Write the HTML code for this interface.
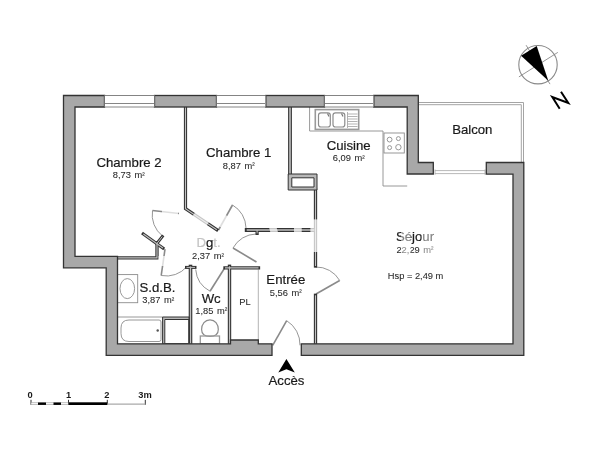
<!DOCTYPE html>
<html><head><meta charset="utf-8">
<style>
html,body{margin:0;padding:0;background:#fff;width:600px;height:450px;overflow:hidden}
svg{position:absolute;left:0;top:0;will-change:transform}
text{font-family:"Liberation Sans",sans-serif;fill:#1a1a1a}
.t{font-size:13.2px;stroke:#1a1a1a;stroke-width:0.2px}
.a{font-size:9.3px;fill:#2a2a2a;stroke:#2a2a2a;stroke-width:0.08px}
</style></head><body>
<svg width="600" height="450" viewBox="0 0 600 450">
<!-- balcony railing -->
<g fill="none" stroke="#9a9a9a" stroke-width="0.9">
  <path d="M418.3,102.5 H523.5 V162.5"/>
  <path d="M418.3,104.7 H521.3 V162.5"/>
  <path d="M435,170.6 H485 M435,173.6 H485 M435,169.5 V174.7 M485,169.5 V174.7" stroke="#b0b0b0"/>
</g>
<!-- kitchen counter -->
<g fill="none" stroke="#8c8c8c" stroke-width="0.9">
  <path d="M309.6,107 V131 H383 V186 H407.2"/>
  <rect x="315.3" y="109.6" width="43.4" height="19.8" stroke="#999" stroke-width="1.6"/>
  <rect x="318.5" y="112.8" width="11.8" height="14.2" rx="2.5" stroke-width="1.2"/>
  <rect x="333" y="112.8" width="11.8" height="14.2" rx="2.5" stroke-width="1.2"/>
  <path d="M347.5,114 H357.5 M347.5,116.5 H357.5 M347.5,119 H357.5 M347.5,121.5 H357.5 M347.5,124 H357.5 M347.5,126.5 H357.5 M347.5,112 V128" stroke="#aaa"/>
  <path d="M327.5,113.5 L329,116.5 M341.5,113.5 L343,116.5" stroke="#777" stroke-width="1.2"/>
  <rect x="384" y="133" width="20.3" height="20"/>
  <circle cx="389.6" cy="139.6" r="2.4"/>
  <circle cx="398.4" cy="138.6" r="2"/>
  <circle cx="389.6" cy="147.6" r="2"/>
  <circle cx="398.4" cy="147.2" r="2.7"/>
</g>
<!-- bathroom fixtures -->
<g fill="none" stroke="#8c8c8c" stroke-width="0.9">
  <rect x="117.5" y="274.6" width="20.2" height="28.1"/>
  <ellipse cx="127.3" cy="288.6" rx="7.3" ry="10"/>
  <path d="M117.5,317 H162.6"/>
  <path d="M129,320 H159 Q161,320 161,322 V339.5 Q161,341.5 159,341.5 H129 Q121,341.5 121,333.5 V328 Q121,320 129,320 Z"/>
  <path d="M210,319.8 C205,319.8 201.6,324 201.6,329.5 C201.6,334 205,336.4 210,336.4 C215,336.4 218.3,334 218.3,329.5 C218.3,324 215,319.8 210,319.8 Z" stroke-width="1.2"/>
  <rect x="200.3" y="336" width="19.2" height="7.8" stroke-width="1.3" stroke="#999"/>
</g>
<circle cx="157.7" cy="330.5" r="1.2" fill="#555"/>
<!-- PL light line -->
<path d="M258.3,269.5 V340" stroke="#aaa" stroke-width="0.9" fill="none"/>
<!-- doors -->
<g fill="none" stroke="#8a8a8a" stroke-width="0.9">
  <!-- chambre 2 door -->
  <path d="M179,213.5 L152.5,210.5" stroke-width="1.6"/>
  <path d="M152.5,210.5 A27,27 0 0 0 162.5,236"/>
  <!-- chambre 1 door -->
  <path d="M218.5,230 L232.5,205" stroke-width="1.6"/>
  <path d="M232.5,205 A27,27 0 0 1 246,228"/>
  <!-- sdb door -->
  <path d="M165,249.2 L161.2,275.5" stroke-width="1.6"/>
  <path d="M161.2,275.5 A27,27 0 0 0 187,266.5"/>
  <!-- wc door -->
  <path d="M224.2,268.7 L210,291.2" stroke-width="1.6"/>
  <path d="M210,291.2 A27,27 0 0 1 195.7,269.5"/>
  <!-- entree door from dgt -->
  <path d="M256.5,262 L233,248" stroke-width="1.6"/>
  <path d="M233,248 A27,27 0 0 1 256,234"/>
  <!-- sejour door -->
  <path d="M316,294 L339.7,280.5" stroke-width="1.6"/>
  <path d="M339.7,280.5 A27,27 0 0 0 315.5,267"/>
  <!-- entry door -->
  <path d="M272.7,345.3 L286.7,320.7" stroke-width="1.6"/>
  <path d="M286.7,320.7 A28,28 0 0 1 300,345.3"/>
</g>
<!-- partitions -->
<g fill="none" stroke-linecap="square" stroke-linejoin="miter">
  <path d="M185.5,107 V208.7 L216.8,229.8" stroke="#333" stroke-width="3.2"/>
  <path d="M290,107 V174" stroke="#333" stroke-width="3.8"/>
  <path d="M315.5,190 V266" stroke="#333" stroke-width="3.3"/>
  <path d="M315.5,295.3 V343.8" stroke="#333" stroke-width="3.3"/>
  <path d="M246.7,230 H314.3" stroke="#333" stroke-width="3.8"/>
  <path d="M117.5,257.8 H157 V243" stroke="#333" stroke-width="3.3"/>
  <path d="M143.3,234 L162.9,248" stroke="#333" stroke-width="3.2"/>
  <path d="M157.3,243 L162.3,236.5" stroke="#333" stroke-width="3.0"/>
  <path d="M190.5,266.5 V343.8" stroke="#333" stroke-width="3.6"/>
  <path d="M186.5,267.4 H195" stroke="#333" stroke-width="3.0"/>
  <path d="M229.5,266.3 V343.8" stroke="#333" stroke-width="3.4"/>
  <path d="M225,267.8 H258.5" stroke="#333" stroke-width="3.3"/>
  <path d="M257.1,230 V233.4" stroke="#333" stroke-width="3.2"/>
  <path d="M185.5,107 V208.7 L216.8,229.8" stroke="#c0c0c0" stroke-width="1.1" stroke-linecap="butt"/>
  <path d="M290,107 V174" stroke="#c0c0c0" stroke-width="1.6" stroke-linecap="butt"/>
  <path d="M315.5,190 V266" stroke="#c0c0c0" stroke-width="1.1" stroke-linecap="butt"/>
  <path d="M315.5,295.3 V343.8" stroke="#c0c0c0" stroke-width="1.1" stroke-linecap="butt"/>
  <path d="M246.7,230 H314.3" stroke="#c0c0c0" stroke-width="1.4" stroke-linecap="butt"/>
  <path d="M117.5,257.8 H157 V243" stroke="#c0c0c0" stroke-width="1.2" stroke-linecap="butt"/>
  <path d="M143.3,234 L162.9,248" stroke="#c0c0c0" stroke-width="1.1" stroke-linecap="butt"/>
  <path d="M157.3,243 L162.3,236.5" stroke="#c0c0c0" stroke-width="1.0" stroke-linecap="butt"/>
  <path d="M190.5,266.5 V343.8" stroke="#c0c0c0" stroke-width="1.3" stroke-linecap="butt"/>
  <path d="M186.5,267.4 H195" stroke="#c0c0c0" stroke-width="1.0" stroke-linecap="butt"/>
  <path d="M229.5,266.3 V343.8" stroke="#c0c0c0" stroke-width="1.2" stroke-linecap="butt"/>
  <path d="M225,267.8 H258.5" stroke="#c0c0c0" stroke-width="1.2" stroke-linecap="butt"/>
  <path d="M257.1,230 V233.4" stroke="#c0c0c0" stroke-width="1.0" stroke-linecap="butt"/>
</g>
<g fill="#b8b8b8" stroke="#333" stroke-width="1">
  <path d="M288.2,174 H317 V190 H288.2 Z M291.8,177.8 V187 H314 V177.8 Z" fill-rule="evenodd"/>
  <path d="M162.6,317 H189 V343.8 H162.6 Z M164.8,319.5 V343.8 H189 V319.5 Z" fill-rule="evenodd"/>
</g>
<!-- walls -->
<g fill="#a8a8a8" stroke="#333" stroke-width="1.3" stroke-linejoin="miter">
  <path d="M63.5,95.5 H104.5 V107 H75 V256.3 H117.5 V343.8 H230.5 V340 H258.3 V343.8 H272 V355.3 H106.2 V267.8 H63.5 Z"/>
  <rect x="154.5" y="95.5" width="62" height="11.5"/>
  <rect x="265.8" y="95.5" width="58.7" height="11.5"/>
  <path d="M373.8,95.5 H418.3 V162.5 H433.3 V174 H407.2 V107 H373.8 Z"/>
  <path d="M486.3,162.5 H523.8 V355.3 H301.3 V343.8 H513 V174.2 H486.3 Z"/>
</g>
<!-- windows -->
<g fill="#fff" stroke="#666" stroke-width="0.8">
  <rect x="104.5" y="95.5" width="50" height="11.5"/>
  <line x1="105" y1="103.5" x2="154" y2="103.5"/>
  <rect x="216.5" y="95.5" width="49.3" height="11.5"/>
  <line x1="217" y1="103.5" x2="265" y2="103.5"/>
  <rect x="324.5" y="95.5" width="49.3" height="11.5"/>
  <line x1="325" y1="103.5" x2="373" y2="103.5"/>
</g>
<!-- compass -->
<g>
  <circle cx="538" cy="64.7" r="19.2" fill="none" stroke="#8a8a8a" stroke-width="1.1"/>
  <line x1="518.9" y1="76.9" x2="557.8" y2="52.4" stroke="#8a8a8a" stroke-width="0.9"/>
  <line x1="526.1" y1="45.2" x2="550" y2="84.1" stroke="#8a8a8a" stroke-width="0.9"/>
  <path d="M521.1,55.8 L536.7,46 L548.3,80.8 Z" fill="#000"/>
  <path d="M559.7,108.7 L552.3,97 L568.3,103 L561,91.7" fill="none" stroke="#000" stroke-width="2" stroke-linejoin="miter"/>
</g>
<!-- scale bar -->
<g>
  <path d="M31,399.8 V404.8 M68.5,399.8 V404.8 M107.3,399.8 V404.8 M145.3,399.8 V404.8" stroke="#333" stroke-width="1"/>
  <rect x="31" y="402.8" width="37.5" height="1.8" fill="#fff" stroke="#999" stroke-width="0.6"/>
  <rect x="38" y="402.5" width="8" height="2.4" fill="#000"/>
  <rect x="53.5" y="402.5" width="7.5" height="2.4" fill="#000"/>
  <rect x="68.5" y="402.3" width="38.8" height="2.7" fill="#000"/>
  <path d="M107.3,404.1 H145.3" stroke="#aaa" stroke-width="1.4"/>
  <text x="30.2" y="397.6" font-size="9.3" font-weight="bold" text-anchor="middle">0</text>
  <text x="68.5" y="397.6" font-size="9.3" font-weight="bold" text-anchor="middle">1</text>
  <text x="106.8" y="397.6" font-size="9.3" font-weight="bold" text-anchor="middle">2</text>
  <text x="145" y="397.6" font-size="9.3" font-weight="bold" text-anchor="middle">3m</text>
</g>
<!-- access arrow -->
<path d="M286.4,359.1 L294.8,372.5 L286.4,369.3 L278.3,372.5 Z" fill="#000"/>
<!-- text -->
<text x="129" y="166.7" class="t" text-anchor="middle">Chambre 2</text>
<text x="128.7" y="178" class="a" text-anchor="middle">8,73<tspan dx="3.6">m</tspan><tspan font-size="7.4" dy="-0.4">²</tspan></text>
<text x="238.7" y="156.7" class="t" text-anchor="middle">Chambre 1</text>
<text x="238.7" y="168.7" class="a" text-anchor="middle">8,87<tspan dx="3.6">m</tspan><tspan font-size="7.4" dy="-0.4">²</tspan></text>
<text x="348.7" y="149.5" class="t" text-anchor="middle">Cuisine</text>
<text x="348.7" y="161" class="a" text-anchor="middle">6,09<tspan dx="3.6">m</tspan><tspan font-size="7.4" dy="-0.4">²</tspan></text>
<text x="472.3" y="134" class="t" text-anchor="middle">Balcon</text>
<text x="415" y="240.7" class="t" text-anchor="middle">Séjour</text>
<text x="415" y="252.5" class="a" text-anchor="middle">22,29<tspan dx="3.6">m</tspan><tspan font-size="7.4" dy="-0.4">²</tspan></text>
<text x="415.6" y="278.7" class="a" text-anchor="middle">Hsp = 2,49 m</text>
<text x="157.5" y="291.7" class="t" text-anchor="middle">S.d.B.</text>
<text x="158.2" y="303.3" class="a" text-anchor="middle">3,87<tspan dx="3.6">m</tspan><tspan font-size="7.4" dy="-0.4">²</tspan></text>
<text x="211.2" y="302.5" class="t" text-anchor="middle">Wc</text>
<text x="211.2" y="313.7" class="a" text-anchor="middle">1,85<tspan dx="3.6">m</tspan><tspan font-size="7.4" dy="-0.4">²</tspan></text>
<text x="245" y="305" class="a" text-anchor="middle">PL</text>
<text x="285.8" y="284.3" class="t" text-anchor="middle">Entrée</text>
<text x="285.8" y="295.7" class="a" text-anchor="middle">5,56<tspan dx="3.6">m</tspan><tspan font-size="7.4" dy="-0.4">²</tspan></text>
<text x="208.5" y="247" class="t" text-anchor="middle" style="fill:#c4c4c4;stroke:#c4c4c4">D<tspan style="fill:#1a1a1a;stroke:#1a1a1a">g</tspan>t.</text>
<text x="208" y="259" class="a" text-anchor="middle">2,37<tspan dx="3.6">m</tspan><tspan font-size="7.4" dy="-0.4">²</tspan></text>
<text x="286.5" y="384.5" class="t" text-anchor="middle">Accès</text>
<!-- watermark hints -->
<g fill="#fff" opacity="0.72">
  <rect x="401" y="229" width="10" height="25" opacity="0.62"/>
  <rect x="421.5" y="229" width="15" height="25" opacity="0.62"/>
  <path d="M268.6,226 H276.2 L278.2,233 H270.6 Z"/>
  <rect x="294" y="226" width="7.7" height="7"/>
  <rect x="310.4" y="226" width="3.6" height="7"/>
  <rect x="312.8" y="219.4" width="6" height="32.6"/>
  <rect x="162" y="208" width="16" height="9"/>
  <path d="M196,211 L210,220.5 L205,228 L191,218.5 Z"/>
  <path d="M215,224 L222,213 L229,217 L222,228 Z"/>
  <rect x="158.5" y="256" width="9" height="10"/>
</g>
</svg>
</body></html>
